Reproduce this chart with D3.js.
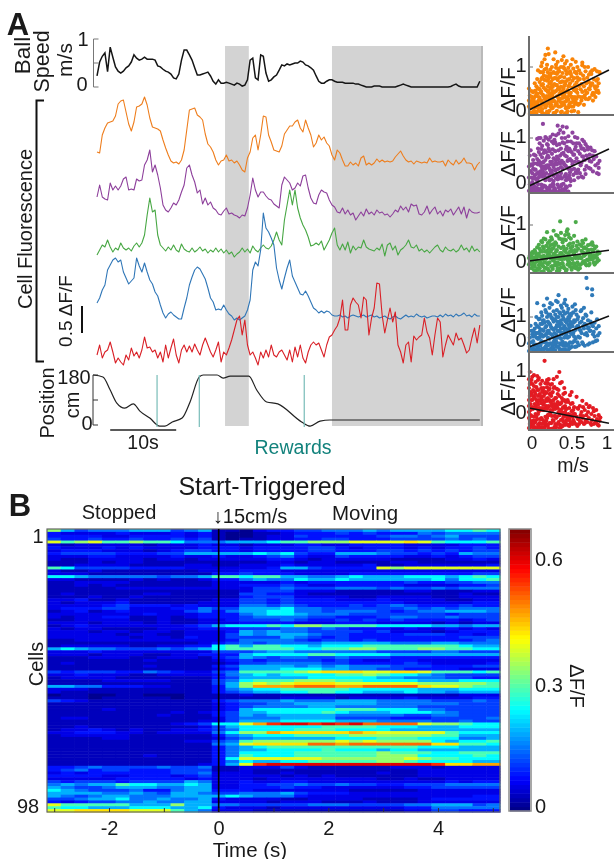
<!DOCTYPE html>
<html><head><meta charset="utf-8">
<script src="https://cdnjs.cloudflare.com/ajax/libs/d3/7.8.5/d3.min.js"></script>
<style>body{margin:0;background:#fff}svg{display:block;font-family:"Liberation Sans",Arial,sans-serif;fill:#1a1a1a;filter:blur(0.4px)}</style>
</head><body><svg id="c" width="614" height="859"></svg>
<script>
// ---- Panel A traces: one sample every 0.4 s. Fluorescence heights in 1/54 dF/F above each trace's own baseline; speed in cm/s.
const sampleStep = 0.4;
const speedCms = [23,52,64,71,32,83,62,42,33,29,33,40,44,52,67,60,56,58,62,58,58,58,56,44,42,37,33,31,27,19,17,27,56,77,77,67,56,40,25,25,27,29,31,23,12,6,15,8,8,10,8,6,4,8,6,2,4,15,56,60,19,15,67,64,29,12,15,21,25,35,46,44,48,46,48,50,50,54,52,46,44,40,35,23,12,8,8,12,15,15,12,10,10,10,8,8,8,8,6,6,4,2,0,0,0,2,2,2,0,0,0,0,0,0,2,4,6,4,2,0,0,0,0,0,0,0,0,0,0,0,0,0,0,0,1,4,6,2,0,0,0,0,0,0,0,12];
const orangeTrace = [28,27,45,52,57,58,59,64,76,79,80,68,56,49,58,73,74,76,83,75,62,53,52,51,49,40,32,25,19,17,18,16,20,30,50,70,71,72,65,63,60,46,36,33,28,20,15,19,20,25,19,20,17,19,15,10,8,22,28,42,45,30,45,64,63,45,38,30,29,28,34,46,50,54,54,58,60,52,48,60,52,45,33,37,45,40,43,37,34,25,20,30,27,20,14,14,18,15,17,14,22,24,15,17,15,17,21,18,20,18,19,18,19,23,26,29,24,20,18,19,16,19,18,17,18,17,22,18,19,18,18,19,14,20,17,15,20,16,18,22,17,17,16,10,15,18];
const purpleTrace = [23,35,23,21,20,37,30,34,30,34,41,43,30,31,30,41,39,40,55,60,70,48,55,45,32,15,10,8,12,17,15,20,28,35,52,55,45,38,27,30,16,22,15,18,12,10,6,5,9,12,6,7,5,4,2,5,4,12,25,42,30,23,28,28,24,21,20,16,14,12,35,43,40,37,30,32,37,34,44,45,32,22,17,16,25,30,28,27,20,15,13,8,7,12,6,10,5,7,0,4,8,4,11,6,8,5,10,7,8,5,6,3,6,10,8,14,10,13,8,16,14,15,6,5,8,14,6,10,13,6,9,4,10,8,11,5,9,13,6,13,2,11,8,7,7,8];
const greenTrace = [5,10,15,13,20,13,8,12,10,17,12,10,12,9,14,17,13,17,25,45,62,48,50,25,15,12,9,13,10,15,10,8,16,11,9,8,12,8,10,13,9,11,7,10,8,12,8,11,7,10,6,8,3,6,8,12,8,11,7,14,10,8,12,15,12,11,14,20,28,20,15,40,55,70,55,70,52,42,35,30,23,14,15,17,15,19,10,15,20,27,32,15,10,16,10,18,7,14,10,13,12,20,13,11,10,9,12,10,16,4,15,17,10,14,5,10,12,15,20,13,12,15,9,11,8,10,7,10,13,15,10,8,13,10,9,11,8,10,15,10,12,8,14,9,11,8];
const blueTrace = [17,22,30,35,50,55,60,62,58,60,48,42,36,39,42,62,54,48,57,48,40,36,28,24,15,7,2,6,8,5,3,1,1,12,22,35,43,50,53,51,46,41,32,22,18,10,11,10,15,10,6,4,0,2,0,2,4,10,20,50,58,54,70,107,92,88,82,75,52,40,31,42,52,60,44,38,32,26,25,29,24,18,12,10,7,9,7,9,8,5,4,4,5,3,4,2,4,5,4,3,4,5,3,4,5,3,4,2,3,4,2,1,3,4,2,1,3,5,3,4,3,6,4,3,4,2,3,4,4,3,5,3,6,4,5,3,6,4,5,7,4,5,3,6,4,4];
const redTrace = [10,20,7,13,15,23,13,2,7,3,0,10,5,17,9,13,7,15,28,17,18,13,15,7,13,3,20,7,17,26,10,2,15,20,13,19,13,21,15,10,20,27,20,13,8,15,23,3,13,10,17,25,35,45,49,30,45,20,10,13,7,0,13,7,15,8,20,10,8,13,15,10,5,15,3,18,8,20,7,2,13,20,23,20,22,15,8,20,28,30,35,39,47,65,35,35,60,67,63,60,47,68,65,30,47,57,82,81,50,32,45,57,43,53,20,13,2,20,23,3,29,25,28,30,47,33,27,10,30,47,43,8,20,30,25,20,32,25,27,20,12,15,27,37,22,40];
const traceColors = ["#ee7d1c","#8d3f9b","#47a743","#2f76b7","#d91f26"];
const traceBases = [180,220,260,320,365];
const positionTimes = [-0.6,0.9,2,3,4.2,5.5,6.5,8,9.5,10.3,11.4,12.9,14.1,15.5,16.1,18.2,19.1,20.2,23,24.2,25.7,27.4,31,32.3,33.8,35.3,58];
const positionCm = [180,173,126,79,61,76,50,25,-4,-4,11,25,83,173,180,180,169,176,176,126,83,76,11,-4,14,18,18];
const rewardTimes = [9.1,15.5,31.4];
const stoppedBands = [[19.4,23],[35.6,58.2]];

// ---- Panel A scatters: flat speed,dF/F pairs in hundredths (outer cloud, then dense core)
const orangeScatter = [0,50,1,34,0,22,2,12,1,3,3,-6,2,20,4,30,5,41,3,44,4,8,5,-8,1,-10,3,15,0,8,6,10,7,-4,8,32,9,55,7,62,10,72,11,92,8,45,12,5,11,20,9,-9,6,28,10,38,12,50,11,-2,7,18,9,12,12,30,13,65,14,88,15,102,16,110,14,40,15,22,13,10,16,-6,17,60,18,80,19,118,20,128,17,35,18,15,19,-9,20,48,19,70,16,75,14,-3,18,52,20,25,15,58,21,96,22,105,23,88,24,74,25,62,26,50,27,38,28,20,29,5,30,-7,21,10,22,32,23,55,24,16,25,-2,26,28,27,85,28,100,29,72,30,118,22,68,24,44,26,94,28,58,30,40,21,46,23,-8,25,35,27,12,29,30,24,130,23,143,26,78,30,88,31,60,32,134,33,98,34,84,35,70,36,52,37,24,38,8,39,-5,40,36,31,20,32,-6,33,44,34,14,35,112,36,96,37,76,38,64,39,100,40,116,33,74,35,30,37,48,39,18,31,86,33,105,36,8,38,40,40,66,34,58,41,86,42,100,43,76,44,60,45,42,46,22,47,-3,48,6,49,72,50,90,41,28,42,50,43,12,44,-8,45,92,46,114,47,70,48,55,49,38,50,16,42,125,44,108,46,84,43,36,48,98,50,62,45,4,47,30,51,105,52,78,53,52,54,25,55,-2,56,88,57,112,58,64,59,40,60,12,52,30,54,96,56,58,58,85,60,70,53,118,55,46,57,18,59,100,60,-5,52,8,56,30,58,48,61,92,62,72,63,48,64,22,65,104,66,80,67,55,68,34,69,90,70,62,62,15,64,60,66,30,68,100,70,40,63,85,67,12,69,45,65,110,71,75,72,100,73,50,74,28,75,88,76,60,77,92,78,40,79,72,80,55,72,25,74,48,76,84,78,22,80,95,73,65,77,35,81,30,82,68,83,90,84,45,85,62,86,88,84,72,82,42,83,55,85,40];
const orangeCore = [6,20,8,6,10,14,12,22,14,8,16,18,18,32,20,6,22,14,24,28,26,8,28,34,30,22,32,10,34,32,36,22,38,26,40,10,42,18,44,30,46,6,48,24,50,34,52,18,54,8,56,14,58,26,60,32,13,28,15,42,17,12,19,26,21,32,23,42,25,18,27,52,29,44,31,42,33,16,35,48,37,36,39,54,41,44,43,56,45,20,47,46,49,12,51,40,53,30,55,22,57,44,59,14,11,50,13,48,15,72,17,88,19,94,21,78,23,70,25,82,27,66,29,54,31,74,33,58,35,88,37,90,39,78,41,66,43,96,45,66,47,86,49,56,51,84,53,68,55,74,57,88,59,76,61,56,63,30,65,42,67,72,69,26,71,40,73,82,75,56,77,62,79,36,81,50,9,36,7,44,5,25,3,30,2,5,1,16,4,18,6,-2,16,2,22,-4,28,4,34,-2,40,-4,46,-8,52,-3];
const purpleScatter = [0,-20,1,-5,0,10,2,25,3,40,1,60,2,72,4,0,5,-15,3,-22,4,20,5,50,0,35,2,-12,5,30,6,-8,7,15,8,60,9,42,10,98,7,-20,8,28,9,5,11,76,12,100,10,-14,11,22,12,48,6,62,9,-24,12,10,11,-5,13,88,14,62,15,36,16,12,17,132,18,94,19,72,20,50,13,-18,14,24,15,-6,16,82,17,44,18,18,19,-22,20,102,14,100,16,56,18,66,20,30,13,40,15,75,17,-12,19,35,20,4,21,100,22,86,23,60,24,38,25,16,26,-8,27,-22,28,92,29,74,30,54,21,20,22,-14,23,34,24,96,25,70,26,46,27,6,28,26,29,-4,30,88,22,56,24,76,26,102,28,64,30,14,23,84,25,-16,27,40,29,108,30,-20,21,68,31,96,32,70,33,44,34,18,35,-6,36,110,37,86,38,60,39,34,40,8,31,-14,32,26,33,106,34,84,35,52,36,30,37,-20,38,12,39,76,40,100,32,90,34,58,36,72,38,118,40,48,33,8,35,128,37,44,39,-10,41,126,41,90,42,66,43,40,44,14,45,-10,46,124,47,92,48,70,49,50,50,22,42,-4,43,88,44,60,45,36,46,10,47,-22,48,104,49,76,50,52,42,112,44,100,46,80,48,30,50,-8,43,-16,45,74,47,48,49,15,51,92,52,68,53,40,54,16,55,4,56,102,57,80,58,54,59,26,60,10,52,28,54,88,56,46,58,88,60,70,53,112,55,62,57,22,59,100,60,46,51,2,61,88,62,64,63,38,64,12,65,96,66,76,67,50,68,28,69,86,70,60,62,20,64,44,66,10,68,72,70,36,63,82,65,58,67,92,69,18,71,80,72,54,73,32,74,62,75,78,76,46,77,72,78,24,79,52,80,70,81,38,82,58,83,20,84,42,72,74,75,30,78,60,85,32,85,18,74,48,86,48];
const purpleCore = [2,-20,4,-18,6,-22,8,-12,10,-20,12,-24,14,-16,16,-20,18,-8,20,-24,22,-20,24,-14,26,-22,28,-10,30,-6,32,-18,34,-24,36,-12,38,-20,40,-18,42,-24,44,-18,46,-12,48,-22,3,10,5,8,7,28,9,18,11,40,13,16,15,20,17,24,19,14,21,36,23,10,25,30,27,22,29,18,31,40,33,28,35,14,37,8,39,20,41,30,43,12,45,18,47,6,49,32,4,38,6,42,8,8,10,52,12,68,14,44,16,30,18,46,20,70,22,38,24,56,26,26,28,46,30,34,32,50,34,40,36,52,38,42,40,64,42,44,44,38,46,58,48,50,50,72,52,48,54,62,56,74,58,20,60,28,5,-4,10,4,15,-14,20,-10,25,4,30,2,35,6,40,-6,45,4,50,8,55,30,62,44,64,76,66,58,68,50];
const greenScatter = [0,-10,2,5,1,15,3,-20,4,25,5,-5,6,10,7,30,8,-28,9,18,10,38,0,8,3,12,5,22,7,-15,9,-2,10,-22,4,-12,8,6,6,-25,11,14,12,45,13,-8,14,28,15,-30,16,52,17,4,18,35,19,-18,20,60,11,-25,12,20,13,34,14,-2,15,12,16,-12,17,40,18,-28,19,10,20,26,22,80,15,55,18,62,21,42,22,-6,23,18,24,-26,25,55,26,8,27,30,28,-14,29,46,30,84,21,-20,23,50,24,22,25,-4,26,-30,27,66,28,12,29,-22,30,36,22,28,26,44,28,60,23,-10,30,4,31,-12,32,52,33,26,34,-28,35,70,36,40,37,6,38,110,39,-18,40,60,31,18,32,-4,33,48,34,30,35,-20,36,14,37,62,38,-8,39,36,40,22,33,72,35,10,37,-26,31,44,39,78,41,52,42,-14,43,30,44,72,45,8,46,-24,47,88,48,44,49,-4,50,26,41,16,42,40,43,-20,44,12,45,58,46,34,47,-10,48,20,49,66,50,48,43,60,45,-28,46,82,48,74,50,-16,51,36,52,6,53,-18,54,50,55,22,56,-8,57,108,58,42,59,14,60,-24,51,62,52,28,53,40,54,-6,55,70,56,30,57,8,58,-16,59,54,60,34,61,12,62,46,63,-10,64,28,65,56,66,-2,67,36,68,16,69,60,70,-12,71,24,72,44,62,-20,64,8,66,50,68,38,70,20,72,2,73,30,74,-8,75,46,76,14,77,52,78,26,79,-4,80,34,81,10,82,40,83,18,84,26,85,2,86,22,75,4,78,44,80,-10,83,-2];
const greenCore = [1,-5,3,0,5,6,7,-8,9,8,11,2,13,-20,15,-8,17,-14,19,-4,21,6,23,-22,25,16,27,-16,29,2,31,6,33,-12,35,-4,37,14,39,6,41,-6,43,6,45,24,47,4,49,14,51,-8,53,4,55,-14,57,-20,59,-4,61,-10,63,8,65,-6,67,14,69,-8,71,4,73,-12,75,18,77,6,79,12,81,-6,83,8,2,20,4,8,6,26,8,24,10,14,12,-12,14,12,16,26,18,14,20,8,22,12,24,36,26,26,28,34,30,20,32,16,34,8,36,-10,38,22,40,4,42,14,44,32,46,12,48,-2,50,8,52,-24,54,18,56,12,58,28,60,8,62,12,64,42,66,24,68,0,70,34,72,22,74,12,76,32,78,6,80,16];
const blueScatter = [0,-48,1,-30,2,-10,1,10,3,40,2,62,4,-40,5,15,6,-20,7,50,8,-45,9,30,0,-15,3,-35,5,-5,7,-25,8,70,9,100,6,35,4,25,10,160,11,-30,12,55,13,10,14,-48,15,120,16,-12,17,84,18,40,19,-35,20,130,11,30,12,-20,13,92,14,70,15,-5,16,45,17,-40,18,150,19,20,20,-10,14,20,16,105,19,75,13,-42,21,60,22,180,23,10,24,-45,25,140,26,-15,27,100,28,50,29,-30,30,125,21,-25,22,30,23,80,24,110,25,70,26,160,27,25,28,-42,29,90,30,-8,22,-40,24,40,26,65,28,155,30,45,21,120,23,-18,25,5,27,-35,29,15,31,90,32,-20,33,55,34,130,35,10,36,195,37,-38,38,75,39,150,40,25,31,-45,32,110,33,-5,34,65,35,165,36,40,37,120,38,-15,39,85,40,-42,32,50,34,-30,36,100,38,35,40,140,33,170,35,80,37,60,39,5,31,30,41,105,42,-25,43,60,44,175,45,20,46,-48,47,90,48,135,49,40,50,-10,41,-8,42,125,43,35,44,-40,45,80,46,150,47,10,48,65,49,-35,50,110,42,50,44,85,46,30,48,-20,50,55,43,160,45,-15,47,120,49,95,51,70,52,-30,53,25,54,120,55,-5,56,155,57,45,58,-28,59,90,60,15,51,105,52,60,53,-12,54,30,55,85,56,-30,57,130,58,55,59,-10,60,100,53,145,55,40,57,5,59,60,61,-22,62,75,63,125,64,30,65,-10,66,95,67,50,68,-25,69,110,70,65,71,20,72,85,62,10,64,130,66,-18,68,70,70,270,71,225,70,105,72,-20,63,40,67,140,73,55,74,-15,75,40,76,120,77,220,78,-10,79,35,80,75,81,-5,82,50,83,90,84,20,85,60,86,30,77,195,75,80,78,60,80,15,83,-2];
const blueCore = [6,-40,8,-20,10,-35,12,-45,14,-25,16,-38,18,-48,20,-30,22,-15,24,-22,26,-42,28,-18,30,-35,32,-46,34,-12,36,-28,38,-45,40,-20,42,-42,44,-15,46,-25,48,-44,50,-35,52,-12,9,10,11,5,13,35,15,25,17,15,19,-8,21,25,23,40,25,30,27,55,29,50,31,5,33,25,35,40,37,15,39,50,41,30,43,10,45,50,47,45,49,15,51,30,53,60,55,15,5,40,7,20,10,60,12,90,14,45,16,70,18,85,20,55,22,100,24,75,26,110,28,95,30,80,32,85,34,100,36,65,38,115,40,70,42,95,44,115,46,75,48,100,50,80,52,115,54,75,56,80,58,110,60,60,62,45,64,80,66,60,68,25,70,30,72,50,74,40,76,70,78,25];
const redScatter = [0,-40,1,-20,0,0,2,20,1,40,0,60,3,80,1,100,2,-35,3,-10,4,30,5,55,0,82,2,72,4,-30,5,8,3,46,1,-42,5,-22,4,70,0,30,2,-8,6,92,7,-38,8,15,9,62,10,-18,11,40,12,85,13,-28,14,5,15,60,6,-12,7,50,8,75,9,-40,10,25,11,-5,12,-35,13,45,14,70,15,-15,7,20,9,30,11,80,13,10,15,35,8,-25,10,55,12,30,14,-40,6,38,16,78,17,-20,18,40,19,128,20,-35,21,15,22,62,23,-8,24,82,25,30,16,-40,17,55,18,5,19,-25,20,72,21,48,22,-15,23,35,24,-42,25,58,17,20,19,45,21,-30,23,72,25,-5,16,30,18,-28,20,10,22,28,24,15,26,68,27,-28,28,20,29,50,30,82,31,-10,32,35,33,-38,34,58,35,10,26,-5,27,40,28,-42,29,5,30,-22,31,62,32,-30,33,18,34,-12,35,45,28,70,30,30,32,8,34,88,26,25,36,-25,37,40,38,72,39,5,40,-35,41,28,42,-12,43,60,44,15,45,-28,36,55,37,-8,38,20,39,-38,40,35,41,-18,42,45,43,-2,44,-32,45,25,40,75,42,12,44,48,37,100,38,-32,46,-20,47,30,48,-5,49,10,50,-30,51,20,52,50,53,-12,54,5,55,-25,46,8,47,-32,48,25,49,-18,50,42,51,-8,52,-28,53,22,54,-20,55,12,56,-5,57,-30,58,38,59,10,60,-18,61,-30,62,15,63,-8,64,-25,65,28,66,-10,67,-30,68,5,69,-20,70,20,58,-12,60,8,62,-22,64,0,66,12,68,-28,70,-8,59,-35,65,-15,71,-25,72,0,73,-15,74,15,75,-28,76,-5,77,-20,78,10,79,-30,80,-10,81,-25,82,5,83,-18,84,-32,85,-8,86,-22,87,-14,73,12,76,-32,79,2,82,-28,85,-34];
const redCore = [1,-30,3,-25,5,-38,7,-22,9,-12,11,-32,13,-42,15,-30,17,-38,19,-42,21,-22,23,-35,25,-28,27,-42,29,-20,31,-38,33,-15,35,-30,37,-40,39,-20,41,-35,43,-25,45,-10,47,-15,49,-35,51,-25,53,-30,55,-5,2,5,4,12,6,-28,8,-5,10,8,12,2,14,-18,16,10,18,18,20,-12,22,8,24,-8,26,5,28,-10,30,12,32,-10,34,15,36,0,38,5,40,-2,42,-25,44,0,46,-8,48,-20,50,-12,52,2,54,-8,3,30,5,40,7,35,9,10,11,18,13,28,15,22,17,5,19,25,21,32,23,12,25,45,27,15,29,28,31,20,33,35,35,25,37,20,39,22,41,10,43,30,45,8,6,65,8,45,10,90,12,55,14,40,16,50,18,60,20,50,22,80,24,55,26,45,28,48,30,60,4,88,2,50,1,70,0,15,0,-15];
const scatterColors = ["#f98408","#8e449f","#4cab4a","#2f7ab9","#e31b23"];
const fitIntercepts = [0,-0.09,0,-0.3,0.1];
const fitEnds = [0.93,0.75,0.3,1.04,-0.28];
const scatterZero = [110,182,261,340,412];
const scatterOne = [67,138,225,317,372];
const scatterBottom = [115,193,273,352,430];
const scatterLabelY = [90,154,228,310,393];

// ---- Panel B: 98 cells x 33 time bins; each hex character indexes levelValues (dF/F)
const timeBins = d3.range(33);
const heatRows = [
"964 555 666 456 110 233 445 556 566 667 787","322 223 222 323 100 112 333 434 333 545 555","333 322 333 323 100 122 433 333 455 456 444","433 433 433 434 101 122 334 433 344 445 454",
"a89 a88 988 755 566 678 899 9aa aab a87 778","212 222 212 223 221 222 332 233 332 222 333","322 232 322 223 332 333 344 323 332 323 343","233 322 212 344 332 333 344 333 443 434 344",
"344 443 334 466 666 767 433 666 544 343 655","222 332 222 322 322 345 322 433 332 232 344","211 222 212 212 222 233 212 222 211 112 232","111 212 211 111 111 122 122 111 122 111 111",
"112 222 111 122 112 223 222 223 112 222 223","874 444 333 322 222 236 643 333 a9a aaa aaa","211 211 111 112 223 332 222 222 222 222 222","222 111 111 111 334 333 222 233 333 333 344",
"776 555 554 556 887 886 655 676 667 776 787","221 111 212 112 335 655 766 766 666 675 778","112 222 111 111 222 223 233 333 334 334 455","112 121 111 111 223 334 322 333 332 222 334",
"111 112 222 222 222 445 444 555 454 454 555","111 111 111 111 112 444 222 111 112 211 122","121 111 122 111 114 433 211 111 111 111 211","111 211 211 111 113 444 222 211 222 211 222",
"223 112 111 111 224 434 333 222 322 221 122","212 223 111 112 224 434 333 333 332 222 233","222 234 333 232 225 545 433 343 454 333 433","233 344 222 335 446 667 554 444 445 454 555",
"123 123 222 245 356 677 554 555 434 556 665","222 222 232 223 335 677 655 544 444 443 444","212 233 112 123 334 555 544 333 455 445 444","112 222 112 112 234 445 433 434 343 333 234",
"222 122 212 112 223 333 222 333 222 212 122","123 222 222 234 677 787 998 888 777 766 566","212 211 112 223 334 445 545 433 323 223 232","222 122 122 122 236 565 544 443 422 212 333",
"222 221 221 122 246 566 654 433 334 443 323","222 222 122 132 244 446 543 433 333 333 444","112 222 222 222 235 555 434 434 333 333 345","111 111 111 112 345 455 556 666 655 566 555",
"122 222 112 233 786 887 767 778 888 888 766","676 554 445 456 788 888 778 899 888 998 877","222 322 222 222 444 566 555 555 444 455 444","222 122 211 223 336 777 788 777 766 666 666",
"111 222 112 221 346 545 544 544 433 333 333","111 111 121 111 234 344 443 432 233 222 222","121 111 111 111 124 455 554 433 334 322 223","111 111 121 111 346 666 565 655 544 433 344",
"111 111 111 111 236 667 776 655 443 333 222","434 443 354 322 458 888 9ab bba abb a88 878","223 222 112 222 356 767 777 889 877 654 444","122 221 111 111 346 666 677 777 665 554 433",
"111 122 222 111 457 888 999 887 777 666 777","111 111 111 111 469 a9a bbb aaa aaa 999 998","665 533 322 111 369 ccc ddd ccd ddd baa 988","222 111 111 111 356 778 888 877 777 666 777",
"211 111 111 111 345 667 788 776 667 665 666","011 001 100 011 112 111 111 111 111 111 222","111 011 111 011 111 112 222 122 223 222 233","432 111 111 111 345 556 555 666 555 544 454",
"111 111 111 111 234 455 666 666 555 555 444","111 111 111 111 234 555 566 555 555 444 444","111 121 111 111 236 777 777 888 777 554 444","111 111 111 212 346 677 778 766 677 765 444",
"111 111 112 111 346 566 666 555 554 455 444","122 111 111 111 245 556 666 444 433 344 445","111 111 111 112 246 667 777 666 555 544 544","111 111 111 234 77a cef fef efd ddd a99 877",
"112 111 111 112 467 777 778 888 777 666 777","122 321 211 223 457 777 888 777 766 666 666","223 332 212 222 579 9cb bbb bcb aaa aa8 777","122 222 111 111 356 777 888 899 999 988 666",
"111 122 111 111 245 666 666 777 888 777 556","111 111 111 122 458 999 999 a9a 999 976 778","111 111 111 111 56a bbb bdd cdd ddd dbb 887","111 111 111 111 356 788 888 888 888 777 666",
"111 111 111 111 356 677 778 777 677 666 666","111 111 111 111 357 777 888 888 988 877 888","111 111 121 111 358 777 888 888 999 777 787","111 111 111 111 37a aaa aa9 999 99a 988 777",
"111 111 111 111 357 667 788 888 998 777 766","111 111 111 112 36a eff fff fff fff feb bcc","334 544 445 445 112 224 211 111 122 212 222","345 344 333 444 112 111 111 111 111 222 222",
"232 333 333 445 222 112 111 111 211 222 222","333 322 333 234 222 221 212 111 111 222 222","222 223 333 323 222 122 222 222 112 112 222","434 443 444 465 223 223 322 222 222 223 233",
"565 668 776 676 223 344 544 544 334 445 555","654 456 665 566 223 334 332 222 223 344 444","765 444 533 566 333 222 222 211 111 222 222","666 655 654 665 445 556 433 322 222 222 222",
"654 566 555 666 676 555 322 222 222 222 233","445 667 556 556 322 221 122 221 111 233 333","323 445 565 566 222 212 221 112 111 222 222","a88 888 666 966 554 444 455 544 445 566 645",
"877 666 777 667 322 212 222 222 223 355 555","aab bbb aaa 865 222 111 111 111 112 244 333"];
const levelValues = [0.01,0.035,0.06,0.085,0.115,0.15,0.19,0.24,0.29,0.34,0.39,0.43,0.47,0.51,0.55,0.6];
const jetStops = [0,0.11,0.36,0.61,0.86,1];
const jetColors = ["#000080","#0000ff","#00ffff","#ffff00","#ff0000","#800000"];
const colorMax = 0.672;
const timeTicks = d3.range(-3,6);
const colorbarLabels = [0,0.3,0.6];

const svg = d3.select("#c");
function txt(s,x,y,size,o={}){
  const t = svg.append("text").text(s).attr("font-size",size).attr("text-anchor",o.anchor||"middle")
    .attr("dominant-baseline","central").attr("fill",o.fill||"#1a1a1a");
  if(o.bold) t.attr("font-weight","bold");
  t.attr("transform",`translate(${x},${y})`+(o.rot?` rotate(${o.rot})`:""));
  return t;
}
// Panel A scales
const t = d3.scaleLinear().domain([0,58]).range([97,479.8]);
const dff = d3.scaleLinear().domain([0,54]).range([0,54]);
const speedY = d3.scaleLinear().domain([0,100]).range([87,39]);
const posY = d3.scaleLinear().domain([0,180]).range([425,375]);

svg.selectAll(".band").data(stoppedBands).join("rect").attr("x",d=>t(d[0])).attr("width",d=>t(d[1])-t(d[0]))
  .attr("y",46).attr("height",380).attr("fill","#d3d3d3");
svg.append("line").attr("x1",482).attr("x2",482).attr("y1",46).attr("y2",426).attr("stroke","#777").attr("stroke-width",1);

const lineAt = (y)=>d3.line().x((d,i)=>t(i*sampleStep)).y(y);
svg.append("path").datum(speedCms).attr("d",lineAt(d=>speedY(d))).attr("fill","none").attr("stroke","#151515").attr("stroke-width",1.5);
[orangeTrace,purpleTrace,greenTrace,blueTrace,redTrace].forEach((a,k)=>{
  svg.append("path").datum(a).attr("d",lineAt(d=>traceBases[k]-dff(d))).attr("fill","none").attr("stroke",traceColors[k]).attr("stroke-width",1.1).attr("stroke-linejoin","round");
});
svg.append("path").datum(d3.zip(positionTimes,positionCm))
  .attr("d",d3.line().x(d=>t(d[0])).y(d=>posY(d[1])).curve(d3.curveMonotoneX)).attr("fill","none").attr("stroke","#222").attr("stroke-width",1.2);
svg.selectAll(".rew").data(rewardTimes).join("line").attr("x1",d=>t(d)).attr("x2",d=>t(d)).attr("y1",375).attr("y2",427).attr("stroke","#78bcb8").attr("stroke-width",1.2);

// speed & position brackets
function bracket(x,scale,vals,col){
  svg.append("line").attr("x1",x).attr("x2",x).attr("y1",scale(vals[0])).attr("y2",scale(vals[vals.length-1])).attr("stroke",col);
  svg.selectAll(null).data(vals).join("line").attr("x1",x).attr("x2",x+5).attr("y1",scale).attr("y2",scale).attr("stroke",col);
}
bracket(93.5,speedY,[0,50,100],"#777");
bracket(93,posY,[0,90,180],"#333");
txt("1",83,speedY(100),20); txt("0",82,speedY(0)-3,20);
txt("180",74,posY(180)+2,20); txt("0",87,posY(0)-2,20);
txt("Ball",22,55.5,22.5,{rot:-90}); txt("Speed",42,61.5,21.5,{rot:-90}); txt("m/s",64,60,21,{rot:-90});
txt("A",18,24.5,31,{bold:true});
svg.append("path").attr("d","M44,100.5H36.5V361.5H44").attr("fill","none").attr("stroke","#111").attr("stroke-width",2);
txt("Cell Fluorescence",25,229,20,{rot:-90});
svg.append("line").attr("x1",82).attr("x2",82).attr("y1",306).attr("y2",333).attr("stroke","#111").attr("stroke-width",2);
txt("0.5 ΔF/F",65,311,19,{rot:-90});
txt("Position",47,403,20,{rot:-90}); txt("cm",72,405,20,{rot:-90});
svg.append("line").attr("x1",t(2)).attr("x2",t(12)).attr("y1",430).attr("y2",430).attr("stroke","#222").attr("stroke-width",1.4);
txt("10s",143,442,19.5);
txt("Rewards",293,447,19.5,{fill:"#12827c"});

// scatters
const sx = d3.scaleLinear().domain([0,1]).range([529,611]);
[orangeScatter.concat(orangeCore),purpleScatter.concat(purpleCore),greenScatter.concat(greenCore),blueScatter.concat(blueCore),redScatter.concat(redCore)].forEach((a,k)=>{
  const pts = d3.range(0,a.length,2).map(i=>[a[i]/100,a[i+1]/100]);
  const sy = d3.scaleLinear().domain([0,1]).range([scatterZero[k],scatterOne[k]]);
  svg.selectAll(null).data(pts).join("circle").attr("cx",d=>sx(d[0])).attr("cy",d=>Math.min(sy(d[1]),scatterBottom[k]-1)).attr("r",2.1).attr("fill",scatterColors[k]);
  svg.append("line").attr("x1",sx(0)).attr("x2",sx(.975)).attr("y1",sy(fitIntercepts[k])).attr("y2",sy(fitEnds[k])).attr("stroke","#111").attr("stroke-width",1.6);
  svg.append("line").attr("x1",529).attr("x2",614).attr("y1",scatterBottom[k]).attr("y2",scatterBottom[k]).attr("stroke","#6e6e6e").attr("stroke-width",2);
  svg.append("line").attr("x1",529).attr("x2",533).attr("y1",sy(1)).attr("y2",sy(1)).attr("stroke","#6e6e6e");
  txt("ΔF/F",507,scatterLabelY[k],21,{rot:-90});
  txt("1",521,sy(1)-2,20); txt("0",521,sy(0),20);
});
svg.append("line").attr("x1",529).attr("x2",529).attr("y1",36).attr("y2",431).attr("stroke","#6e6e6e").attr("stroke-width",2);
txt("0",532,442,19); txt("0.5",572,442,19); txt("1",607,442,19); txt("m/s",573,465,19.5);

// Panel B
const jet = d3.scaleLinear().domain(jetStops.map(s=>s*colorMax)).range(jetColors).clamp(true);
const hx = d3.scaleBand().domain(timeBins).range([47,500]);
const hy = d3.scaleBand().domain(d3.range(heatRows.length)).range([529,812]);
heatRows.forEach((row,r)=>{
  const vals = row.replace(/ /g,"").split("").map(c=>levelValues[parseInt(c,16)]);
  svg.selectAll(null).data(vals).join("rect").attr("x",(d,i)=>hx(i)).attr("y",hy(r)).attr("width",hx.bandwidth()+.5).attr("height",hy.bandwidth()+.5).attr("fill",d=>jet(d));
});
const tx = d3.scaleLinear().domain([-3,5]).range([54.2,492.8]);
svg.append("rect").attr("x",47).attr("y",529).attr("width",453).attr("height",283).attr("fill","none").attr("stroke","#666").attr("stroke-width",1.2);
svg.append("line").attr("x1",tx(0)).attr("x2",tx(0)).attr("y1",529).attr("y2",812).attr("stroke","#000").attr("stroke-width",1.6);
const axis = d3.axisBottom(tx).tickValues(timeTicks).tickSize(-4).tickPadding(9).tickFormat(d=>d%2===0?String(d):"");
const ax = svg.append("g").attr("transform","translate(0,812)").call(axis);
ax.select(".domain").remove();
ax.selectAll("line").attr("stroke","#333");
ax.selectAll("text").attr("font-size",20).attr("font-family","inherit").attr("fill","#1a1a1a");
txt("Start-Triggered",262,486,25);
txt("Stopped",119,512,20); txt("↓15cm/s",250,516,20); txt("Moving",365,512,20.5);
txt("B",20,505,31,{bold:true});
txt("1",38,536,20); txt("98",28,806,20);
txt("Cells",36,664,20,{rot:-90});
txt("Time (s)",250,849,20.5);
// colorbar
const cbY = d3.scaleLinear().domain([0,colorMax]).range([811,529]);
const cbLevels = d3.range(64).map(i=>i/64*colorMax);
svg.selectAll(null).data(cbLevels).join("rect").attr("x",510).attr("width",20).attr("y",d=>cbY(d+colorMax/64)).attr("height",282/64+.5).attr("fill",d=>jet(d+colorMax/128));
svg.append("rect").attr("x",509).attr("y",529).attr("width",22).attr("height",282).attr("fill","none").attr("stroke","#8a8a8a").attr("stroke-width",1.5);
colorbarLabels.forEach(v=>txt(String(v),535,Math.min(cbY(v),806),20,{anchor:"start"}));
txt("ΔF/F",577,686,20,{rot:90});
</script></body></html>
